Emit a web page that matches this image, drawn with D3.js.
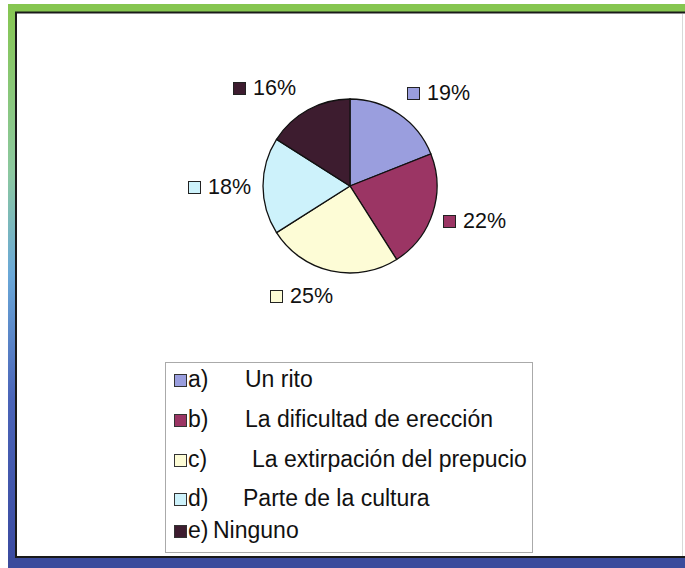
<!DOCTYPE html>
<html>
<head>
<meta charset="utf-8">
<script src="https://cdn.jsdelivr.net/npm/d3@7.9.0/dist/d3.min.js"></script>
<style>
  html, body { margin: 0; padding: 0; background: #fff; }
  svg { display: block; font-family: 'Liberation Sans', Arial, sans-serif; }
</style>
</head>
<body>
<div id="chart"></div>
<script>
// Data
const letters = ['a)', 'b)', 'c)', 'd)', 'e)'];
const categories = ['Un rito', 'La dificultad de erección', 'La extirpación del prepucio', 'Parte de la cultura', 'Ninguno'];
const values = [19, 22, 25, 18, 16];
const colors = ['#9a9ede', '#9b3564', '#fdfcd6', '#cdf2fb', '#3d1c2f'];

const data = categories.map((c, i) => ({ letter: letters[i], name: c, value: values[i], color: colors[i] }));

const width = 685;
const height = 568;

const svg = d3.select('#chart')
  .append('svg')
  .attr('width', width)
  .attr('height', height);

// Frame: green/blue gradient border
const defs = svg.append('defs');
const grad = defs.append('linearGradient')
  .attr('id', 'sideGrad')
  .attr('x1', 0).attr('y1', 0).attr('x2', 0).attr('y2', 1);
grad.append('stop').attr('offset', '0%').attr('stop-color', '#86c650');
grad.append('stop').attr('offset', '30%').attr('stop-color', '#8cc8a0');
grad.append('stop').attr('offset', '48%').attr('stop-color', '#6aa8d8');
grad.append('stop').attr('offset', '70%').attr('stop-color', '#4a64b8');
grad.append('stop').attr('offset', '100%').attr('stop-color', '#3a4aa0');

svg.append('rect').attr('x', 8).attr('y', 4).attr('width', width - 8).attr('height', 9).attr('fill', '#86c650');
svg.append('rect').attr('x', 8).attr('y', 4).attr('width', 8).attr('height', height - 4).attr('fill', 'url(#sideGrad)');
svg.append('rect').attr('x', 8).attr('y', 557).attr('width', width - 8).attr('height', 11).attr('fill', '#3b4b9c');

// inner white panel with black edge
svg.append('rect')
  .attr('x', 16).attr('y', 12.5)
  .attr('width', width - 16 + 2).attr('height', 544.5)
  .attr('fill', '#fff')
  .attr('stroke', '#1a1a1a')
  .attr('stroke-width', 2);
svg.append('line')
  .attr('x1', 682.5).attr('x2', 682.5).attr('y1', 14).attr('y2', 556)
  .attr('stroke', '#d8d8d8').attr('stroke-width', 1);

// Pie
const cx = 350, cy = 186, r = 87;
const pie = d3.pie().sort(null).value((d) => d.value);
const arc = d3.arc().innerRadius(0).outerRadius(r);
const arcs = pie(data);

const g = svg.append('g').attr('transform', `translate(${cx},${cy})`);
g.selectAll('path')
  .data(arcs)
  .enter()
  .append('path')
  .attr('d', arc)
  .attr('fill', (d) => d.data.color)
  .attr('stroke', '#111')
  .attr('stroke-width', 1.3);

// Data labels (square key + percent)
const labelPos = [
  [407, 100],
  [443, 228],
  [270, 303],
  [188, 194],
  [233, 95],
];
const labelSel = svg.selectAll('g.dlabel')
  .data(arcs)
  .enter()
  .append('g')
  .attr('class', 'dlabel')
  .attr('transform', (d, i) => `translate(${labelPos[i][0]},${labelPos[i][1]})`);
labelSel.append('rect')
  .attr('x', 0.5).attr('y', -12.5)
  .attr('width', 12).attr('height', 12)
  .attr('fill', (d) => d.data.color)
  .attr('stroke', '#222').attr('stroke-width', 1);
labelSel.append('text')
  .attr('x', 20).attr('y', 0)
  .attr('font-size', 21.5)
  .attr('fill', '#111')
  .text((d) => Math.round((d.value / d3.sum(values)) * 100) + '%');

// Legend
const lx = 165, ly = 362, lw = 367, lh = 190;
svg.append('rect')
  .attr('x', lx + 0.5).attr('y', ly + 0.5)
  .attr('width', lw).attr('height', lh)
  .attr('fill', '#fff')
  .attr('stroke', '#aaa')
  .attr('stroke-width', 1);

// row baselines (the last row sits a little closer, as in the original)
const rowBase = [387, 427, 467, 506, 538];
const textX = [80, 80, 87, 78, 48];
const legendRows = svg.selectAll('g.lrow')
  .data(data)
  .enter()
  .append('g')
  .attr('class', 'lrow')
  .attr('transform', (d, i) => `translate(${lx}, ${rowBase[i]})`);
legendRows.append('rect')
  .attr('x', 9.5).attr('y', -12.5)
  .attr('width', 12).attr('height', 12)
  .attr('fill', (d) => d.color)
  .attr('stroke', '#333').attr('stroke-width', 1);
legendRows.append('text')
  .attr('x', 23).attr('y', 0)
  .attr('font-size', 23)
  .attr('fill', '#111')
  .text((d) => d.letter);
legendRows.append('text')
  .attr('x', (d, i) => textX[i])
  .attr('y', 0)
  .attr('font-size', 23)
  .attr('fill', '#111')
  .text((d) => d.name);
</script>
</body>
</html>
